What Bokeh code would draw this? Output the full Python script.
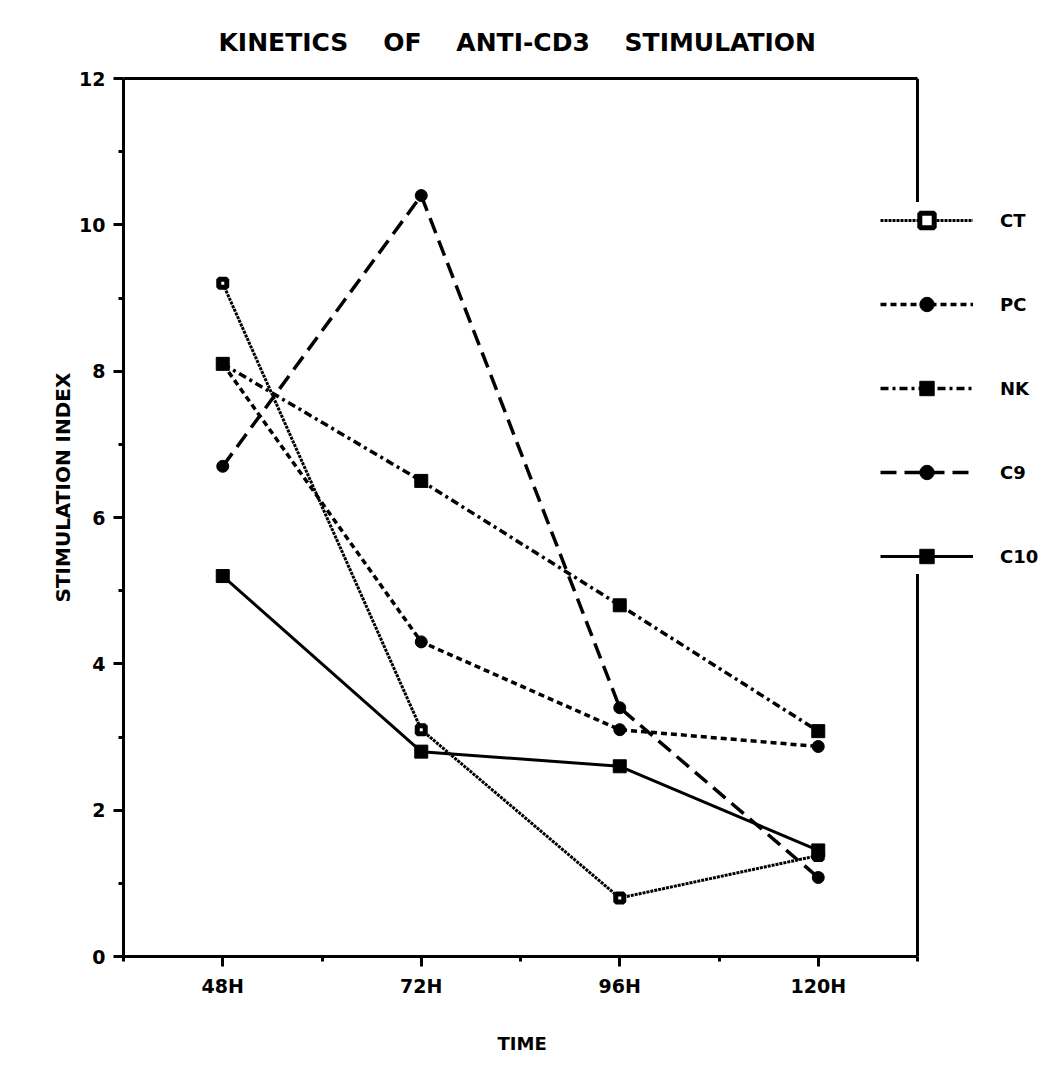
from bokeh.plotting import figure
from bokeh.models import Range1d, FixedTicker, Legend, LegendItem, LinearAxis, Title
from bokeh.embed import file_html
from bokeh.resources import INLINE

# Time points and stimulation index per cell line
times = ["48H", "72H", "96H", "120H"]
ct = [9.2, 3.1, 0.8, 1.38]
pc = [8.1, 4.3, 3.1, 2.87]
nk = [8.1, 6.5, 4.8, 3.08]
c9 = [6.7, 10.4, 3.4, 1.08]
c10 = [5.2, 2.8, 2.6, 1.45]

FONT = "DejaVu Sans"
x = list(range(len(times)))

# Page geometry: the boxed plot area spans x 123..917 px, the legend sits
# across its right edge, so the frame itself runs to the page edge.
W, H = 1043, 1088
LEFT, BOX_RIGHT = 123, 917
x_lo, x_hi = -0.5, len(times) - 0.5
px_per_unit = (BOX_RIGHT - LEFT) / (x_hi - x_lo)
x_end = x_lo + (W - LEFT) / px_per_unit

p = figure(width=W, height=H, output_backend="svg", toolbar_location=None,
           x_range=Range1d(x_lo, x_end), y_range=Range1d(0, 12),
           min_border_left=LEFT, min_border_right=0,
           min_border_top=78, min_border_bottom=132)

p.background_fill_color = "white"
p.border_fill_color = "white"
p.outline_line_color = None
p.grid.visible = False

xa = p.below[0]
ya = p.left[0]

# Title
p.title.text = "KINETICS\u00a0\u00a0\u00a0 OF\u00a0\u00a0\u00a0 ANTI-CD3\u00a0\u00a0\u00a0 STIMULATION"
p.title.align = "left"
p.title.offset = 95
p.title.text_font = FONT
p.title.text_font_style = "bold"
p.title.text_font_size = "25px"
p.title.text_color = "black"
p.title.standoff = 43

# Top edge of the box
top = LinearAxis(ticker=FixedTicker(ticks=[]), bounds=(x_lo, x_hi),
                 axis_line_width=3, major_tick_out=0, major_tick_in=0,
                 minor_tick_out=0, minor_tick_in=0, major_label_text_font_size="0px")
p.add_layout(top, "above")

# Axes
for ax in (xa, ya):
    ax.axis_line_width = 3
    ax.major_tick_line_width = 3
    ax.minor_tick_line_width = 3
    ax.major_tick_in = 0
    ax.minor_tick_in = 0
    ax.major_tick_out = 10
    ax.minor_tick_out = 5
    ax.major_label_text_font = FONT
    ax.major_label_text_font_style = "bold"
    ax.major_label_text_font_size = "19px"
    ax.major_label_text_color = "black"

xa.bounds = (x_lo, x_hi)
xa.ticker = FixedTicker(ticks=x, minor_ticks=[-0.5, 0.5, 1.5, 2.5, 3.5])
xa.major_label_overrides = {i: t for i, t in enumerate(times)}
xa.major_label_standoff = 8

ya.ticker = FixedTicker(ticks=list(range(0, 13, 2)), minor_ticks=list(range(1, 12, 2)))
ya.major_label_standoff = 8

# Axis captions, placed along the box sides
p.add_layout(Title(text="STIMULATION INDEX", align="left", offset=354,
                   text_font=FONT, text_font_style="bold", text_font_size="20px",
                   text_color="black", standoff=4), "left")
p.add_layout(Title(text="TIME", align="left", offset=374,
                   text_font=FONT, text_font_style="bold", text_font_size="18px",
                   text_color="black", standoff=63), "below")

# Right edge of the box (the legend's white background breaks it)
p.segment(x0=[x_hi], y0=[0], x1=[x_hi], y1=[12], line_color="black", line_width=3)

series = [
    ("CT", ct, "3 1", 3, "square", 8, "white", 5),
    ("PC", pc, "6 4", 3.5, "circle", 12, "black", 1),
    ("NK", nk, "8 4 3 4", 3.5, "square", 13, "black", 1),
    ("C9", c9, "16 8", 3.5, "circle", 12, "black", 1),
    ("C10", c10, "solid", 3, "square", 13, "black", 1),
]

items = []
for name, vals, dash, lw, marker, size, fill, mlw in series:
    rl = p.line(x, vals, line_color="black", line_width=lw, line_dash=dash)
    rs = p.scatter(x, vals, marker=marker, size=size, fill_color=fill,
                   line_color="black", line_width=mlw)
    items.append(LegendItem(label=name, renderers=[rl, rs]))

legend = Legend(items=items, location=(880 - LEFT, 382), orientation="vertical",
                glyph_width=93, glyph_height=36, spacing=48, padding=9, margin=0,
                label_standoff=27, label_text_font=FONT, label_text_font_style="bold",
                label_text_font_size="18px", label_text_color="black",
                background_fill_color="white",
                background_fill_alpha=1.0, border_line_color=None)
p.add_layout(legend)

open("out.html", "w").write(file_html(p, INLINE))
